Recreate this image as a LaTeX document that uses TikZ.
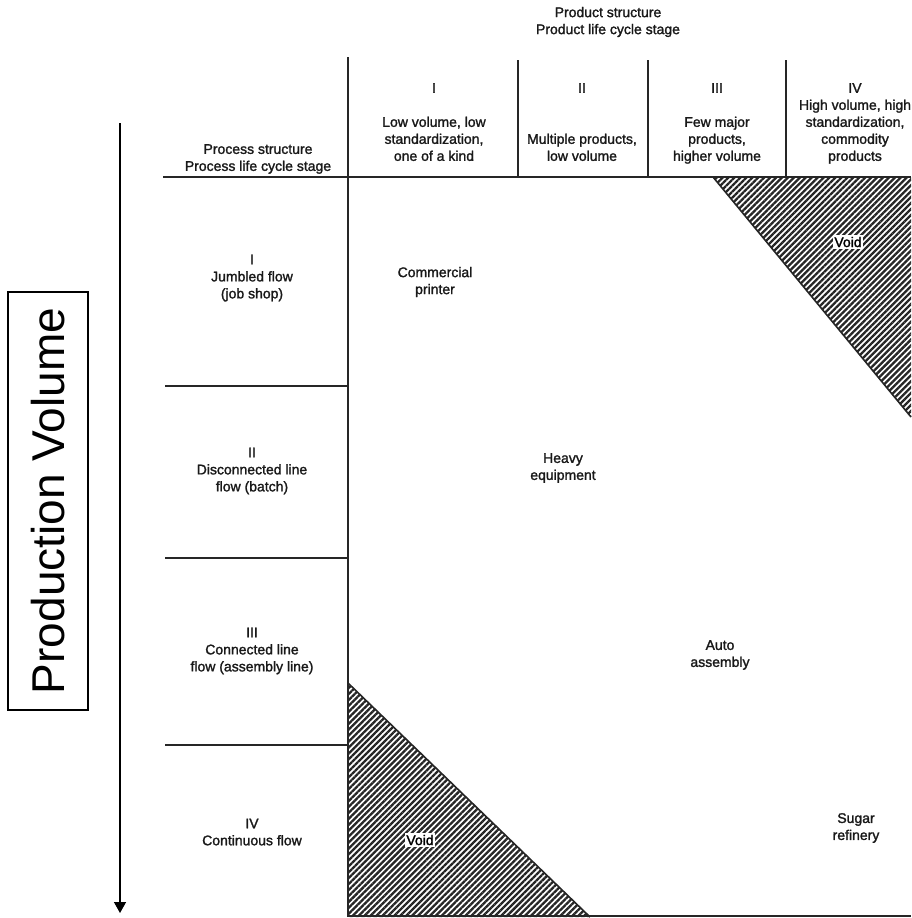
\documentclass[tikz,border=0pt]{standalone}
\usepackage{fontspec}
\setmainfont{Liberation Sans}
\newfontfamily\lbfam[FakeBold=1.6]{Liberation Sans}
\usetikzlibrary{arrows.meta,patterns.meta}
\newcommand\lbfont{\lbfam\fontsize{14}{17}\selectfont}
\tikzset{
  lbl/.style={font=\lbfont, align=center, inner sep=0pt, text=black!90},
  rule/.style={line width=1.6pt, draw=black!85},
  hatch/.style={pattern={Lines[angle=45,distance=4.2pt,line width=2.3pt]}, pattern color=black!85},
  voidlbl/.style={font=\lbfont, fill=white, inner sep=1.5pt},
}
\begin{document}
\begin{tikzpicture}[x=1pt,y=-1pt]
\useasboundingbox (0,0) rectangle (911,918);
% hatched voids
\fill[hatch] (713,177) -- (911,177) -- (911,417) -- cycle;
\fill[hatch] (348,683) -- (348,917) -- (590,917) -- cycle;
\draw[rule] (713,177) -- (911,417);
\draw[rule] (348,683) -- (590,917);
% grid lines
\draw[rule] (348,57) -- (348,917);
\draw[rule] (518,60) -- (518,177);
\draw[rule] (648,60) -- (648,177);
\draw[rule] (786,60) -- (786,177);
\draw[rule] (163,177) -- (911,177);
\draw[rule] (165,386) -- (348,386);
\draw[rule] (165,558) -- (348,558);
\draw[rule] (165,745) -- (348,745);
\draw[rule] (348,916) -- (911,916);
% title
\node[lbl] (title) at (608,22) {Product structure\\Product life cycle stage};
% column headers
\node[lbl,anchor=north] (c1) at (434,83) {I\\[17pt]Low volume, low\\standardization,\\one of a kind};
\node[lbl,anchor=north] (c2) at (582,83) {II\\[34pt]Multiple products,\\low volume};
\node[lbl,anchor=north] (c3) at (717,83) {III\\[17pt]Few major\\products,\\higher volume};
\node[lbl,anchor=north] (c4) at (855,83) {IV\\High volume, high\\standardization,\\commodity\\products};
% row headers
\node[lbl] (rh) at (258,159) {Process structure\\Process life cycle stage};
\node[lbl] (r1) at (252,278) {I\\Jumbled flow\\(job shop)};
\node[lbl] (r2) at (252,471) {II\\Disconnected line\\flow (batch)};
\node[lbl] (r3) at (252,651) {III\\Connected line\\flow (assembly line)};
\node[lbl] (r4) at (252,832) {IV\\Continuous flow};
% cells
\node[lbl] (cp) at (435,282) {Commercial\\printer};
\node[lbl] (he) at (563,468) {Heavy\\equipment};
\node[lbl] (aa) at (720,655) {Auto\\assembly};
\node[lbl] (sr) at (856,828) {Sugar\\refinery};
\node[voidlbl] (v1) at (848,242) {Void};
\node[voidlbl] (v2) at (420,840) {Void};
% production volume
\node[draw, line width=1.2pt, rotate=90, minimum width=418pt, minimum height=80pt,
      inner sep=0pt, font=\fontsize{46}{50}\selectfont] (pv) at (48,501) {Production Volume};
\coordinate (atop) at (120,123);
\coordinate (abot) at (120,913);
\draw[line width=1.4pt, -{Triangle[width=12pt,length=11pt]}] (atop) -- (abot);
\end{tikzpicture}
\end{document}
